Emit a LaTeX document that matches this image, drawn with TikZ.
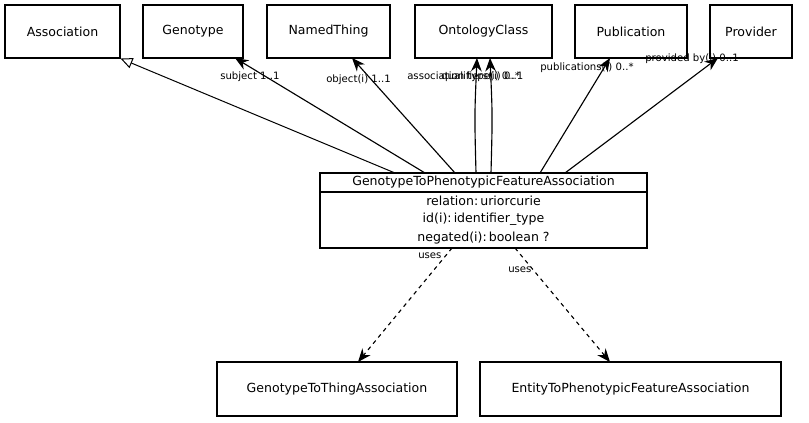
\documentclass[tikz,border=0pt]{standalone}
\usepackage{fontspec}
\setmainfont{DejaVu Sans}
\usetikzlibrary{arrows.meta}
\begin{document}
\begin{tikzpicture}[x=0.75pt,y=-0.75pt,
  cls/.style={draw,line width=0.8pt,inner sep=0pt,font=\fontsize{9.4}{11}\selectfont},
  txt/.style={font=\fontsize{9.4}{11}\selectfont,inner sep=0pt},
  lbl/.style={font=\fontsize{7.6}{8}\selectfont,inner sep=0pt,anchor=west},
  assoc/.style={-{Stealth[length=10pt,width=8pt]},line width=0.85pt},
  isa/.style={-{Triangle[open,length=9pt,width=8pt]},line width=0.75pt},
  usesline/.style={-{Stealth[length=10pt,width=8pt]},dashed,line width=0.85pt}]
\useasboundingbox (0,0) rectangle (809,423);
\node[cls,minimum width=115*0.75pt,minimum height=53*0.75pt] (assn) at (62.5,31.5) {Association};
\node[cls,minimum width=100*0.75pt,minimum height=53*0.75pt] (geno) at (193,31.5) {Genotype};
\node[cls,minimum width=123*0.75pt,minimum height=53*0.75pt] (named) at (328.5,31.5) {NamedThing};
\node[cls,minimum width=137*0.75pt,minimum height=53*0.75pt] (onto) at (483.5,31.5) {OntologyClass};
\node[cls,minimum width=112*0.75pt,minimum height=53*0.75pt] (pub) at (631,31.5) {Publication};
\node[cls,minimum width=82*0.75pt,minimum height=53*0.75pt] (prov) at (751,31.5) {Provider};
% main class
\draw[line width=0.8pt] (320,173) rectangle (647,248);
\draw[line width=0.8pt] (320,192) -- (647,192);
\node[txt] (mt) at (483.5,182.5) {GenotypeToPhenotypicFeatureAssociation};
\node[txt] (a1) at (483.5,201) {relation:\,uriorcurie};
\node[txt] (a2) at (483.5,219) {id(i):\,identifier\_type};
\node[txt] (a3) at (483.5,238) {negated(i):\,boolean ?};
\node[cls,minimum width=240*0.75pt,minimum height=54*0.75pt] (gtt) at (337,389) {GenotypeToThingAssociation};
\node[cls,minimum width=301*0.75pt,minimum height=54*0.75pt] (etp) at (630.5,389) {EntityToPhenotypicFeatureAssociation};
% coordinates on main box
\coordinate (m1) at (395,173);
\coordinate (m2) at (425,173);
\coordinate (m3) at (455,173);
\coordinate (m4) at (476,173);
\coordinate (m5) at (491,173);
\coordinate (m6) at (540,173);
\coordinate (m7) at (565,173);
\coordinate (b1) at (452,248);
\coordinate (b2) at (515,248);
\draw[isa] (m1) -- (assn.south east);
\draw[assoc] (m2) -- (235,58);
\draw[assoc] (m3) -- (352,58);
\draw[assoc] (m4) .. controls (474.5,115) .. (477,58);
\draw[assoc] (m5) .. controls (492.5,115) .. (490,58);
\draw[assoc] (m6) -- (610,58);
\draw[assoc] (m7) -- (718,58);
\draw[usesline] (b1) -- (358,362);
\draw[usesline] (b2) -- (610,362);
\node[lbl] (l1) at (220,77) {subject 1..1};
\node[lbl] (l2) at (326,80) {object(i) 1..1};
\node[lbl] (l3) at (407,77) {association type(i) 0..1};
\node[lbl] (l4) at (441,77) {qualifiers(i) 0..*};
\node[lbl] (l5) at (540,68) {publications(i) 0..*};
\node[lbl] (l6) at (645,59) {provided by(i) 0..1};
\node[lbl] (l7) at (418,256) {uses};
\node[lbl] (l8) at (508,270) {uses};
\end{tikzpicture}
\end{document}
